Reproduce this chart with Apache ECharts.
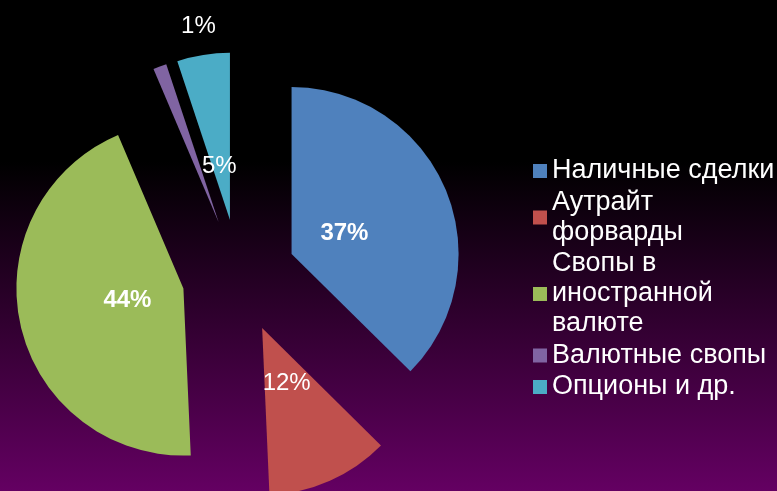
<!DOCTYPE html>
<html>
<head>
<meta charset="utf-8">
<script src="https://cdn.jsdelivr.net/npm/echarts@6/dist/echarts.min.js"></script>
<style>
html,body{margin:0;padding:0;background:#000;}
#chart{width:777px;height:491px;}
</style>
</head>
<body>
<div id="chart"></div>
<script>
// Data
var categories = ['Наличные сделки', 'Аутрайт форварды', 'Свопы в иностранной валюте', 'Валютные свопы', 'Опционы и др.'];
var shares = [37.4, 11.9, 44.3, 1.3, 5.1];
var percentLabels = ['37%', '12%', '44%', '1%', '5%'];
var legendLines = ['Наличные сделки', 'Аутрайт\nфорварды', 'Свопы в\nиностранной\nвалюте', 'Валютные свопы', 'Опционы и др.'];
var colors = ['#4f81bd', '#c0504d', '#9bbb59', '#8064a2', '#4bacc6'];

var chart = echarts.init(document.getElementById('chart'), null, {renderer: 'canvas'});

var center = [239, 276];
var offset = 57;

var sliceData = categories.map(function (c, i) {
  return {name: c, value: shares[i], selected: true, itemStyle: {color: colors[i]}};
});
var labelData = categories.map(function (c, i) {
  return {
    name: c, value: shares[i], selected: true,
    label: {fontWeight: (i === 0 || i === 2) ? 'bold' : 'normal'}
  };
});
// label nudges (Excel places some labels away from the slice midline)
var labelShift = {0: [-3, 3], 2: [3, -2], 3: [1, -140], 4: [-1, 6]};

chart.setOption({
  animation: false,
  backgroundColor: {
    type: 'linear', x: 0, y: 0, x2: 0, y2: 1,
    colorStops: [
      {offset: 0, color: '#000000'},
      {offset: 0.33, color: '#000000'},
      {offset: 1, color: '#640062'}
    ]
  },
  color: colors,
  legend: {
    orient: 'vertical',
    left: 533,
    top: 156,
    padding: 0,
    itemWidth: 14,
    itemHeight: 14,
    itemGap: 1.5,
    icon: 'rect',
    selectedMode: false,
    data: categories.map(function (c, i) { return {name: c, itemStyle: {color: colors[i]}}; }),
    formatter: function (name) { return legendLines[categories.indexOf(name)]; },
    textStyle: {
      color: '#ffffff',
      fontFamily: 'Liberation Sans, Arial, sans-serif',
      fontSize: 27,
      lineHeight: 30
    }
  },
  series: [
    {
      type: 'pie',
      center: center,
      radius: [0, 167],
      startAngle: 90,
      clockwise: true,
      selectedMode: 'multiple',
      selectedOffset: offset,
      silent: true,
      avoidLabelOverlap: false,
      label: {show: false},
      labelLine: {show: false},
      itemStyle: {borderWidth: 0},
      select: {itemStyle: {borderWidth: 0}},
      emphasis: {disabled: true},
      data: sliceData
    },
    {
      type: 'pie',
      center: center,
      radius: [0, 115],
      startAngle: 90,
      clockwise: true,
      selectedMode: 'multiple',
      selectedOffset: offset,
      silent: true,
      z: 5,
      avoidLabelOverlap: false,
      itemStyle: {color: 'rgba(0,0,0,0)', borderWidth: 0},
      select: {itemStyle: {color: 'rgba(0,0,0,0)', borderWidth: 0}},
      emphasis: {disabled: true},
      labelLine: {show: false},
      label: {
        show: true,
        position: 'inside',
        color: '#ffffff',
        fontFamily: 'Liberation Sans, Arial, sans-serif',
        fontSize: 24,
        formatter: function (p) { return percentLabels[p.dataIndex]; }
      },
      labelLayout: function (p) {
        var s = labelShift[p.dataIndex];
        return s ? {dx: s[0], dy: s[1]} : {};
      },
      data: labelData
    }
  ]
});
</script>
</body>
</html>
